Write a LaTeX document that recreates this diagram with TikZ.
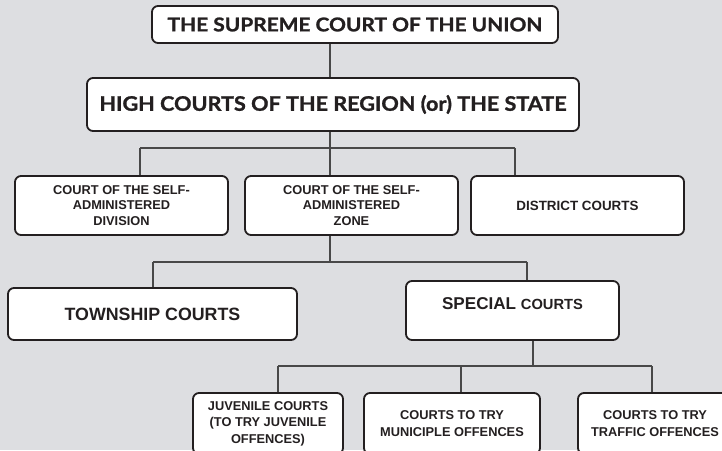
\documentclass[tikz,border=0pt]{standalone}
\usepackage{fontspec}
\setmainfont{Liberation Sans}
\newfontfamily\gillfont[FakeBold=1.2]{Lato}
\definecolor{bgc}{RGB}{221,222,225}
\definecolor{edge}{RGB}{35,31,32}
\definecolor{conn}{RGB}{72,72,72}
\tikzset{
  courtbox/.style={draw=edge, fill=white, line width=1.8pt, rounded corners=6pt,
    inner sep=0pt, align=center, text=edge},
  topfont/.style={font=\gillfont\bfseries\fontsize{19}{22}\selectfont},
  midfont/.style={font=\bfseries\fontsize{12.8}{15.7}\selectfont},
  lowfont/.style={font=\bfseries\fontsize{12.8}{16.5}\selectfont},
  link/.style={draw=conn, line width=1.2pt},
}
\begin{document}
\begin{tikzpicture}[x=1pt,y=-1pt]
\useasboundingbox[fill=bgc] (0,0) rectangle (722,450);
\begin{scope}
\clip (0,0) rectangle (722,450);
% level 1
\node[courtbox, topfont, minimum width=406pt, minimum height=37pt] (sup) at (355,24.5)
  {\scalebox{1.1}[1]{THE SUPREME COURT OF THE UNION}};
% level 2
\node[courtbox, topfont, font=\gillfont\bfseries\fontsize{20}{23}\selectfont, minimum width=492pt, minimum height=53pt] (high) at (333,104.5)
  {\scalebox{1.08}[1]{HIGH COURTS OF THE REGION (or) THE STATE}};
% level 3
\node[courtbox, midfont, minimum width=213pt, minimum height=59pt] (div) at (121.5,205.5)
  {COURT OF THE SELF-\\ADMINISTERED\\DIVISION};
\node[courtbox, midfont, minimum width=213pt, minimum height=59pt] (zone) at (351.5,205.5)
  {COURT OF THE SELF-\\ADMINISTERED\\ZONE};
\node[courtbox, font=\bfseries\fontsize{13.4}{16}\selectfont, minimum width=213pt, minimum height=59pt] (dist) at (577.5,205.5)
  {DISTRICT COURTS};
% level 4
\node[courtbox, font=\bfseries\fontsize{17.8}{20}\selectfont, minimum width=289pt, minimum height=52pt] (town) at (152.5,314)
  {TOWNSHIP COURTS};
\node[courtbox, minimum width=213pt, text height=28pt, text depth=31pt] (spec) at (512.5,310.5)
  {\bfseries\fontsize{17.1}{20}\selectfont SPECIAL \fontsize{14.7}{18}\selectfont COURTS};
% level 5
\node[courtbox, lowfont, minimum width=150pt, minimum height=61pt] (juv) at (268,423.5)
  {JUVENILE COURTS\\(TO TRY JUVENILE\\OFFENCES)};
\node[courtbox, lowfont, minimum width=176pt, minimum height=61pt] (muni) at (452,423.5)
  {COURTS TO TRY\\MUNICIPLE OFFENCES};
\node[courtbox, lowfont, minimum width=154pt, minimum height=61pt] (traf) at (655,423.5)
  {COURTS TO TRY\\TRAFFIC OFFENCES};
\end{scope}
% junction coordinates
\coordinate (s1) at (330,60);
\coordinate (j1) at (330,148);
\coordinate (j2) at (330,262);
\coordinate (j3) at (533,366);
\coordinate (xdiv) at (140,0);
\coordinate (xdist) at (515,0);
\coordinate (xtown) at (153,0);
\coordinate (xspec) at (527,0);
\coordinate (xjuv) at (278,0);
\coordinate (xmuni) at (461,0);
\coordinate (xtraf) at (652,0);
% connectors
\draw[link] (sup.south -| s1) -- (high.north -| s1);
\draw[link] (high.south -| j1) -- (j1);
\draw[link] (j1 -| xdiv) -- (j1 -| xdist);
\draw[link] (j1 -| xdiv) -- (div.north -| xdiv);
\draw[link] (j1) -- (zone.north -| j1);
\draw[link] (j1 -| xdist) -- (dist.north -| xdist);
\draw[link] (zone.south -| j2) -- (j2);
\draw[link] (j2 -| xtown) -- (j2 -| xspec);
\draw[link] (j2 -| xtown) -- (town.north -| xtown);
\draw[link] (j2 -| xspec) -- (spec.north -| xspec);
\draw[link] (spec.south -| j3) -- (j3);
\draw[link] (j3 -| xjuv) -- (j3 -| xtraf);
\draw[link] (j3 -| xjuv) -- (juv.north -| xjuv);
\draw[link] (j3 -| xmuni) -- (muni.north -| xmuni);
\draw[link] (j3 -| xtraf) -- (traf.north -| xtraf);
\end{tikzpicture}
\end{document}
